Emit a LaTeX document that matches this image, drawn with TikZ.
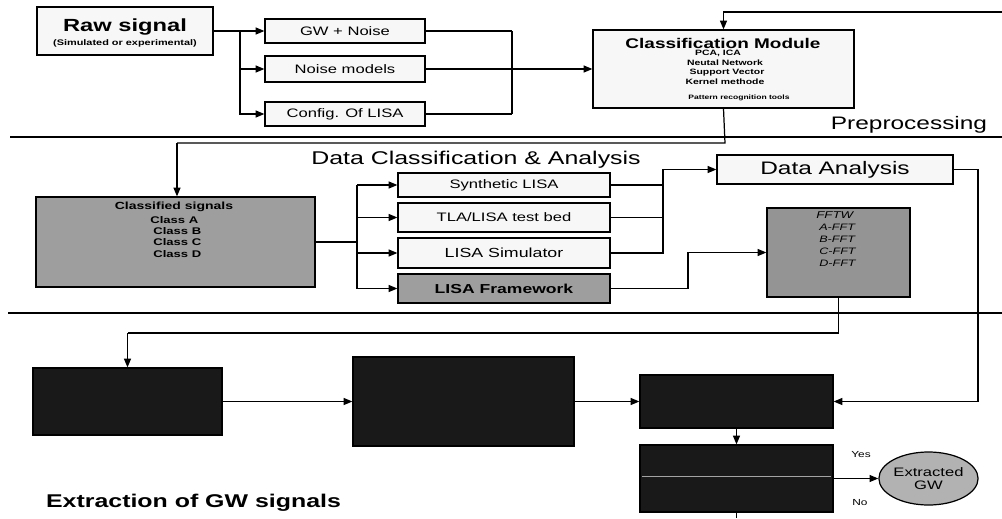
\documentclass[tikz,border=0pt]{standalone}
\usepackage{fontspec}
\setmainfont{Liberation Sans}[FakeStretch=1.35]
\usetikzlibrary{arrows.meta,shapes.geometric}
\newdimen\pu \pu=0.02cm
\newcommand\myfs[1]{\fontsize{#1}{#1}\selectfont}
\begin{document}
\begin{tikzpicture}[x=0.02cm,y=-0.02cm,
  box/.style={draw=black,line width=0.7pt,inner sep=0pt,text=black},
  lightbox/.style={box,fill=gray!6},
  graybox/.style={box,fill=black!38},
  darkbox/.style={box,fill=black!90},
  conn/.style={line width=0.7pt},
  arr/.style={conn,-{Triangle[length=5pt,width=4pt]}},
  sep/.style={line width=0.6pt},
  txt/.style={inner sep=0pt,text=black}
]
\useasboundingbox (0,0) rectangle (1002,518);

% ---------- Preprocessing ----------
\node[lightbox,minimum width=176\pu,minimum height=48\pu] (raw) at (125,31) {};
\node[txt,font=\myfs{10pt}\bfseries] (rawt) at (125,27) {Raw signal};
\node[txt,font=\myfs{4.6pt}\bfseries] (raws) at (125,43) {(Simulated or experimental)};
\node[lightbox,minimum width=160\pu,minimum height=24\pu,font=\myfs{7pt}] (gw) at (345,31) {GW + Noise};
\node[lightbox,minimum width=160\pu,minimum height=26\pu,font=\myfs{7pt}] (nm) at (345,69) {Noise models};
\node[lightbox,minimum width=160\pu,minimum height=24\pu,font=\myfs{7pt}] (cfg) at (345,114) {Config. Of LISA};

\node[lightbox,minimum width=261\pu,minimum height=78\pu] (cm) at (723.5,69) {};
\node[txt,font=\myfs{8pt}\bfseries] (cmt) at (723,43) {Classification Module};
\node[txt,font=\myfs{4.4pt}\bfseries] (cm1) at (718,53) {PCA, ICA};
\node[txt,font=\myfs{4.4pt}\bfseries] (cm2) at (725,63) {Neutal Network};
\node[txt,font=\myfs{4.4pt}\bfseries] (cm3) at (727,73) {Support Vector};
\node[txt,font=\myfs{4.4pt}\bfseries] (cm4) at (725,82) {Kernel methode};
\node[txt,font=\myfs{3.6pt}\bfseries] (cm5) at (739,98) {Pattern recognition tools};

\node[txt,font=\myfs{10.3pt}] (pre) at (909,125) {Preprocessing};

\draw[arr] (raw.east) -- (gw.west);
\draw[arr] (240,31) |- (nm.west);
\draw[arr] (240,31) |- (cfg.west);
\draw[conn] (gw.east) -- (512,31);
\draw[conn] (cfg.east) -- (512,114);
\draw[conn] (512,31) -- (512,114);
\draw[arr] (nm.east) -- (cm.west);

\coordinate (topin) at (1002,12);
\draw[arr] (topin) -| (cm.north);

\draw[sep] (10,137) -- (1002,137);

% ---------- Data Classification & Analysis ----------
\node[txt,font=\myfs{10.5pt}] (dca) at (476,160) {Data Classification \& Analysis};

\node[graybox,minimum width=279\pu,minimum height=90\pu] (cls) at (175.5,242) {};
\node[txt,font=\myfs{5.9pt}\bfseries] (clst) at (174,207) {Classified signals};
\node[txt,anchor=west,font=\myfs{5.5pt}\bfseries] (ca) at (150,220) {Class A};
\node[txt,anchor=west,font=\myfs{5.5pt}\bfseries] (cb) at (153,231) {Class B};
\node[txt,anchor=west,font=\myfs{5.5pt}\bfseries] (cc) at (153,242) {Class C};
\node[txt,anchor=west,font=\myfs{5.5pt}\bfseries] (cd) at (153,254) {Class D};

\draw[conn] (cm.south) -- (725,143) -- (177,143);
\draw[arr] (177,143) -- (cls.north -| 177,0);

\node[lightbox,minimum width=212\pu,minimum height=24\pu,font=\myfs{7pt}] (syn) at (504,185) {Synthetic LISA};
\node[lightbox,minimum width=212\pu,minimum height=29\pu,font=\myfs{7pt}] (tla) at (504,217.5) {TLA/LISA test bed};
\node[lightbox,minimum width=212\pu,minimum height=30\pu,font=\myfs{7.5pt}] (sim) at (504,253) {LISA Simulator};
\node[graybox,minimum width=212\pu,minimum height=29\pu,font=\myfs{7.4pt}\bfseries] (fw) at (504,288.5) {LISA Framework};

\draw[conn] (cls.east) -- (357,242);
\draw[conn] (357,185) -- (357,288.5);
\draw[arr] (357,185) -- (syn.west);
\draw[arr] (357,217.5) -- (tla.west);
\draw[arr] (357,253) -- (sim.west);
\draw[arr] (357,288.5) -- (fw.west);

\node[lightbox,minimum width=236\pu,minimum height=29\pu,font=\myfs{10.3pt}] (da) at (835,169.5) {Data Analysis};
\draw[conn] (syn.east) -- (663,185);
\draw[conn] (tla.east) -- (663,217.5);
\draw[arr] (sim.east) -- (663,253) |- (da.west);

\node[graybox,fill=black!42,minimum width=143\pu,minimum height=89\pu] (fftw) at (838.5,252.5) {};
\node[txt,anchor=west,font=\myfs{5.6pt}\itshape] (f0) at (816,215) {FFTW};
\node[txt,anchor=west,font=\myfs{5.3pt}\itshape] (f1) at (819,227) {A-FFT};
\node[txt,anchor=west,font=\myfs{5.3pt}\itshape] (f2) at (819,239) {B-FFT};
\node[txt,anchor=west,font=\myfs{5.3pt}\itshape] (f3) at (819,251) {C-FFT};
\node[txt,anchor=west,font=\myfs{5.3pt}\itshape] (f4) at (819,263) {D-FFT};

\draw[arr] (fw.east) -- (688,288.5) |- (fftw.west);

\draw[sep] (8,313) -- (1002,313);

% ---------- Extraction ----------
\node[darkbox,minimum width=189\pu,minimum height=67\pu] (b1) at (127.5,401.5) {};
\node[darkbox,minimum width=221\pu,minimum height=89\pu] (b2) at (463.5,401.5) {};
\node[darkbox,minimum width=193\pu,minimum height=53\pu] (b3) at (736.5,401.5) {};
\node[darkbox,minimum width=193\pu,minimum height=67\pu] (b4) at (736.5,478.5) {};
\draw[white,opacity=0.6,line width=0.3pt] (642,476) -- (831,476);

\node[ellipse,draw=black,line width=0.7pt,fill=black!30,minimum width=93\pu,minimum height=53\pu,inner sep=0pt,align=center,font=\myfs{7pt}] (ex) at (928.5,478.5) {Extracted\\GW};

\draw[conn] (fftw.south) -- (838.5,333) -- (127.5,333);
\draw[arr] (127.5,333) -- (b1.north);
\draw[arr] (b1.east) -- (b2.west);
\draw[arr] (b2.east) -- (b3.west);
\draw[arr] (b3.south) -- (b4.north);
\draw[arr] (da.east) -- (978,169.5) |- (b3.east);
\draw[arr] (b4.east) -- (ex.west);
\coordinate (botend) at (736.5,518);
\draw[conn] (b4.south) -- (botend);

\node[txt,font=\myfs{5pt}] (yes) at (861,455) {Yes};
\node[txt,font=\myfs{5pt}] (no) at (860,503) {No};

\node[txt,font=\myfs{10.5pt}\bfseries] (ext) at (193.5,503) {Extraction of GW signals};
\end{tikzpicture}
\end{document}
